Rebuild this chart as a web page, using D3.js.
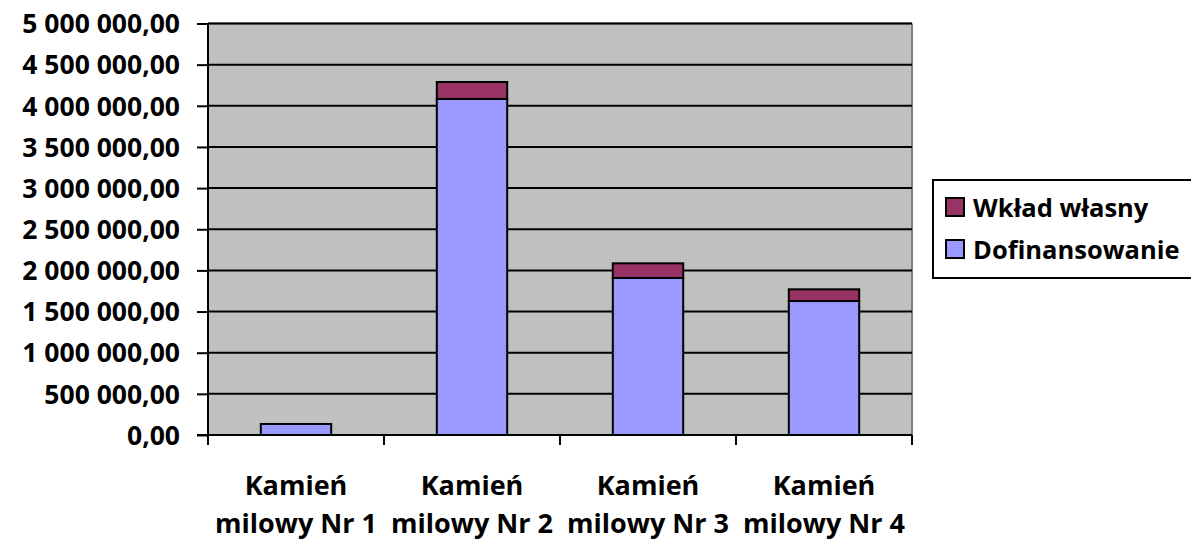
<!DOCTYPE html>
<html><head><meta charset="utf-8">
<script src="https://cdn.jsdelivr.net/npm/d3@7"></script>
<style>
html,body{margin:0;padding:0;background:#fff;}
svg text{font-family:"Open Sans",sans-serif;font-weight:bold;fill:#000;}
</style></head>
<body>
<svg id="c" width="1191" height="540"></svg>
<script>
const categories = [["Kamień","milowy Nr 1"],["Kamień","milowy Nr 2"],["Kamień","milowy Nr 3"],["Kamień","milowy Nr 4"]];
const dofinansowanie = [134000, 4083000, 1908000, 1628000];
const wkladWlasny = [0, 206000, 178000, 142000];
const yTicks = [0,500000,1000000,1500000,2000000,2500000,3000000,3500000,4000000,4500000,5000000];
const seriesNames = ["Wkład własny","Dofinansowanie"];
const colors = {dof:"#9999FF", wk:"#993366"};

const svg = d3.select("#c");
const L=208, R=912, T=23.5, B=435;
const x = d3.scaleBand().domain(d3.range(categories.length)).range([L,R]).paddingInner(0.6).paddingOuter(0.3);
const xOuter = d3.scaleBand().domain(d3.range(categories.length)).range([L,R]);
const y = d3.scaleLinear().domain([0,5000000]).range([B,T]);

const fmt = v => { const s = d3.format(",.2f")(v); return s.replace(/,/g," ").replace(".",","); };

// plot area
svg.append("rect").attr("x",L).attr("y",T).attr("width",R-L).attr("height",B-T).attr("fill","#C0C0C0");
svg.append("line").attr("x1",L).attr("x2",R).attr("y1",T).attr("y2",T).attr("stroke","#808080").attr("stroke-width",2);
svg.append("line").attr("x1",R).attr("x2",R).attr("y1",T).attr("y2",B).attr("stroke","#808080").attr("stroke-width",2);

// gridlines
svg.append("g").selectAll("line").data(yTicks.filter(d=>d>0)).join("line")
  .attr("x1",L).attr("x2",R).attr("y1",d=>y(d)).attr("y2",d=>y(d))
  .attr("stroke","#000").attr("stroke-width",2);

// bars
const stacked = dofinansowanie.map((d,i)=>({i, dof:d, wk:wkladWlasny[i]}));
const bars = svg.append("g");
bars.selectAll(".dof").data(stacked).join("rect")
  .attr("x",d=>x(d.i)).attr("width",x.bandwidth())
  .attr("y",d=>y(d.dof)).attr("height",d=>B-y(d.dof))
  .attr("fill",colors.dof).attr("stroke","#000").attr("stroke-width",2);
bars.selectAll(".wk").data(stacked.filter(d=>d.wk>0)).join("rect")
  .attr("x",d=>x(d.i)).attr("width",x.bandwidth())
  .attr("y",d=>y(d.dof+d.wk))
  .attr("height",d=>y(d.dof)-y(d.dof+d.wk))
  .attr("fill",colors.wk).attr("stroke","#000").attr("stroke-width",2);

// y axis
const yAxis = d3.axisLeft(y).tickValues(yTicks).tickFormat(fmt).tickSize(11).tickPadding(17);
const ya = svg.append("g").attr("transform",`translate(${L},0)`).call(yAxis);
ya.select(".domain").attr("stroke","#000").attr("stroke-width",2).attr("d",`M0,${T}V${B+10}`);
ya.selectAll(".tick line").attr("stroke","#000").attr("stroke-width",2);
ya.selectAll(".tick text").style("font-size","26.5px").style("font-family","'Open Sans',sans-serif").style("font-weight","bold").attr("dy","0.35em");

// x axis
const xa = svg.append("g").attr("transform",`translate(0,${B})`);
xa.append("line").attr("x1",L-11).attr("x2",R).attr("y1",0).attr("y2",0).attr("stroke","#000").attr("stroke-width",2);
const bounds = d3.range(categories.length+1).map(i=> i<categories.length ? xOuter(i) : R);
xa.selectAll(".xt").data(bounds).join("line")
  .attr("x1",d=>d).attr("x2",d=>d).attr("y1",0).attr("y2",10)
  .attr("stroke","#000").attr("stroke-width",2);
const labs = xa.selectAll(".xl").data(categories).join("text")
  .attr("text-anchor","middle").style("font-size","27px")
  .attr("transform",(d,i)=>`translate(${xOuter(i)+xOuter.bandwidth()/2},0)`);
labs.selectAll("tspan").data(d=>d).join("tspan")
  .attr("x",0).attr("y",(d,j)=>60+j*38).text(d=>d);

// legend
const lg = svg.append("g");
lg.append("rect").attr("x",933).attr("y",180).attr("width",270).attr("height",98)
  .attr("fill","#fff").attr("stroke","#000").attr("stroke-width",2);
const items = [{n:seriesNames[0],c:colors.wk},{n:seriesNames[1],c:colors.dof}];
const li = lg.selectAll(".li").data(items).join("g").attr("transform",(d,i)=>`translate(946,${198+i*42})`);
li.append("rect").attr("width",18).attr("height",18).attr("fill",d=>d.c).attr("stroke","#000").attr("stroke-width",2);
li.append("text").attr("x",27).attr("y",19).style("font-size","25.5px").text(d=>d.n);
</script>
</body></html>
